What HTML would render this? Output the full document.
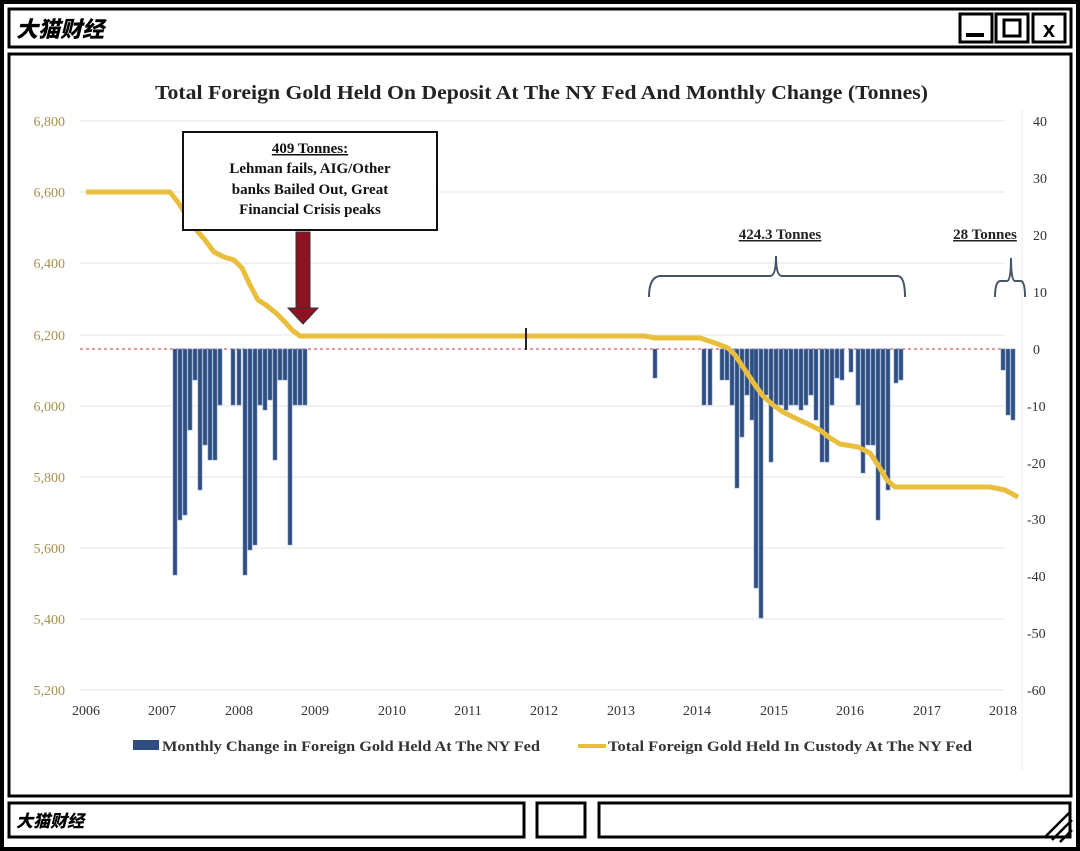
<!DOCTYPE html>
<html><head><meta charset="utf-8"><style>
html,body{margin:0;padding:0;background:#fff;}
svg{display:block;}
</style></head><body>
<svg width="1080" height="851" viewBox="0 0 1080 851" xmlns="http://www.w3.org/2000/svg" font-family="Liberation Serif, serif">
<rect x="0" y="0" width="1080" height="851" fill="#fff"/>
<rect x="2" y="2" width="1076" height="847" fill="none" stroke="#000" stroke-width="4"/>
<rect x="9" y="9" width="1062" height="38" fill="none" stroke="#000" stroke-width="3"/>
<text x="16" y="37" font-family="Noto Sans CJK SC, sans-serif" font-weight="900" font-style="italic" font-size="22" fill="#000">大猫财经</text>
<rect x="960" y="14" width="32" height="28" fill="none" stroke="#000" stroke-width="3"/>
<rect x="966" y="33" width="18" height="4" fill="#000"/>
<rect x="996" y="14" width="32" height="28" fill="none" stroke="#000" stroke-width="3"/>
<rect x="1004" y="20" width="16" height="16" fill="none" stroke="#000" stroke-width="3"/>
<rect x="1033" y="14" width="32" height="28" fill="none" stroke="#000" stroke-width="3"/>
<text x="1049" y="37" text-anchor="middle" font-family="Liberation Sans, sans-serif" font-weight="bold" font-size="22">x</text>
<rect x="9" y="54" width="1062" height="742" fill="none" stroke="#000" stroke-width="3"/>
<text x="155" y="99" textLength="773" lengthAdjust="spacingAndGlyphs" font-size="20" font-weight="bold" fill="#222">Total Foreign Gold Held On Deposit At The NY Fed And Monthly Change (Tonnes)</text>
<g stroke="#e4e4e4" stroke-width="1">
<line x1="80" y1="121" x2="1005" y2="121"/><line x1="80" y1="192" x2="1005" y2="192"/>
<line x1="80" y1="263" x2="1005" y2="263"/><line x1="80" y1="335" x2="1005" y2="335"/>
<line x1="80" y1="406" x2="1005" y2="406"/><line x1="80" y1="477" x2="1005" y2="477"/>
<line x1="80" y1="548" x2="1005" y2="548"/><line x1="80" y1="619" x2="1005" y2="619"/>
<line x1="80" y1="690" x2="1005" y2="690"/>
</g>
<line x1="80" y1="349" x2="1005" y2="349" stroke="#c33" stroke-width="1" stroke-dasharray="3,3"/>
<g font-size="14" fill="#a89050" text-anchor="end">
<text x="65" y="126">6,800</text><text x="65" y="197">6,600</text><text x="65" y="268">6,400</text>
<text x="65" y="340">6,200</text><text x="65" y="411">6,000</text><text x="65" y="482">5,800</text>
<text x="65" y="553">5,600</text><text x="65" y="624">5,400</text><text x="65" y="695">5,200</text>
</g>
<g font-size="14" fill="#333" text-anchor="start">
<text x="1033" y="126">40</text><text x="1033" y="183">30</text><text x="1033" y="240">20</text>
<text x="1033" y="297">10</text><text x="1033" y="354">0</text><text x="1027" y="411">-10</text>
<text x="1027" y="468">-20</text><text x="1027" y="524">-30</text><text x="1027" y="581">-40</text>
<text x="1027" y="638">-50</text><text x="1027" y="695">-60</text>
</g>
<line x1="1022" y1="110" x2="1022" y2="770" stroke="#eee"/>
<g font-size="14" fill="#333" text-anchor="middle">
<text x="86" y="715">2006</text><text x="162" y="715">2007</text><text x="239" y="715">2008</text>
<text x="315" y="715">2009</text><text x="392" y="715">2010</text><text x="468" y="715">2011</text>
<text x="544" y="715">2012</text><text x="621" y="715">2013</text><text x="697" y="715">2014</text>
<text x="774" y="715">2015</text><text x="850" y="715">2016</text><text x="927" y="715">2017</text>
<text x="1003" y="715">2018</text>
</g>
<g fill="#2f4d7e" stroke="#6f8fbf" stroke-width="0.6">
<rect x="173" y="349" width="4" height="226"/><rect x="178" y="349" width="4" height="171"/>
<rect x="183" y="349" width="4" height="166"/><rect x="188" y="349" width="4" height="81"/>
<rect x="193" y="349" width="4" height="31"/><rect x="198" y="349" width="4" height="141"/>
<rect x="203" y="349" width="4" height="96"/><rect x="208" y="349" width="4" height="111"/>
<rect x="213" y="349" width="4" height="111"/><rect x="218" y="349" width="4" height="56"/>
<rect x="231" y="349" width="4" height="56"/><rect x="237" y="349" width="4" height="56"/>
<rect x="243" y="349" width="4" height="226"/><rect x="248" y="349" width="4" height="201"/>
<rect x="253" y="349" width="4" height="196"/><rect x="258" y="349" width="4" height="56"/>
<rect x="263" y="349" width="4" height="61"/><rect x="268" y="349" width="4" height="51"/>
<rect x="273" y="349" width="4" height="111"/><rect x="278" y="349" width="4" height="31"/>
<rect x="283" y="349" width="4" height="31"/><rect x="288" y="349" width="4" height="196"/>
<rect x="293" y="349" width="4" height="56"/><rect x="298" y="349" width="4" height="56"/>
<rect x="303" y="349" width="4" height="56"/>
<rect x="653" y="349" width="4" height="29"/>
<rect x="702" y="349" width="4" height="56"/><rect x="708" y="349" width="4" height="56"/>
<rect x="720" y="349" width="4" height="31"/><rect x="725" y="349" width="4" height="31"/>
<rect x="730" y="349" width="4" height="56"/><rect x="735" y="349" width="4" height="139"/>
<rect x="740" y="349" width="4" height="88"/><rect x="745" y="349" width="4" height="46"/>
<rect x="750" y="349" width="4" height="71"/><rect x="754" y="349" width="4" height="239"/>
<rect x="759" y="349" width="4" height="269"/><rect x="764" y="349" width="4" height="46"/>
<rect x="769" y="349" width="4" height="113"/><rect x="774" y="349" width="4" height="56"/>
<rect x="779" y="349" width="4" height="56"/><rect x="784" y="349" width="4" height="61"/>
<rect x="789" y="349" width="4" height="56"/><rect x="794" y="349" width="4" height="56"/>
<rect x="799" y="349" width="4" height="61"/><rect x="804" y="349" width="4" height="56"/>
<rect x="809" y="349" width="4" height="46"/><rect x="814" y="349" width="4" height="71"/>
<rect x="820" y="349" width="4" height="113"/><rect x="825" y="349" width="4" height="113"/>
<rect x="830" y="349" width="4" height="56"/><rect x="835" y="349" width="4" height="29"/>
<rect x="840" y="349" width="4" height="31"/><rect x="849" y="349" width="4" height="23"/>
<rect x="856" y="349" width="4" height="56"/><rect x="861" y="349" width="4" height="124"/>
<rect x="866" y="349" width="4" height="96"/><rect x="871" y="349" width="4" height="96"/>
<rect x="876" y="349" width="4" height="171"/><rect x="881" y="349" width="4" height="121"/>
<rect x="886" y="349" width="4" height="141"/><rect x="894" y="349" width="4" height="34"/>
<rect x="899" y="349" width="4" height="31"/>
<rect x="1001" y="349" width="4" height="21"/><rect x="1006" y="349" width="4" height="66"/>
<rect x="1011" y="349" width="4" height="71"/>
</g>
<polyline fill="none" stroke="#e8be3c" stroke-width="5" stroke-linejoin="round" points="86,192 170,192 180,205 192,225 205,240 214,252 224,257 234,260 242,268 250,285 258,300 266,305 276,313 285,322 292,330 300,336 400,336 520,336 645,336 655,338 700,338 715,343 728,348 735,355 745,370 755,385 763,396 773,405 783,412 795,418 808,424 820,430 830,438 840,444 858,447 870,453 878,465 887,480 895,487 990,487 1005,490 1018,497"/>
<line x1="526" y1="328" x2="526" y2="350" stroke="#222" stroke-width="2"/>
<rect x="183" y="132" width="254" height="98" fill="#fff" stroke="#111" stroke-width="2"/>
<g font-size="15" font-weight="bold" fill="#111" text-anchor="middle">
<text x="310" y="153" text-decoration="underline">409 Tonnes:</text>
<text x="310" y="173">Lehman fails, AIG/Other</text>
<text x="310" y="194">banks Bailed Out, Great</text>
<text x="310" y="214">Financial Crisis peaks</text>
</g>
<rect x="296" y="232" width="14" height="78" fill="#8e1220" stroke="#333" stroke-width="1"/>
<polygon points="288,308 318,308 303,324" fill="#8e1220" stroke="#333" stroke-width="1"/>
<path d="M649,297 Q649,277 660,276 L770,276 Q776,276 776,256 Q776,276 782,276 L898,276 Q905,277 905,297" fill="none" stroke="#445566" stroke-width="2"/>
<text x="780" y="239" text-anchor="middle" font-size="15" font-weight="bold" fill="#222" text-decoration="underline">424.3 Tonnes</text>
<path d="M995,297 Q995,282 1000,281 L1007,281 Q1011,281 1011,258 Q1011,281 1015,281 L1021,281 Q1025,282 1025,297" fill="none" stroke="#445566" stroke-width="2"/>
<text x="985" y="239" text-anchor="middle" font-size="15" font-weight="bold" fill="#222" text-decoration="underline">28 Tonnes</text>
<rect x="133" y="740" width="26" height="10" fill="#2f4d7e"/>
<text x="162" y="751" textLength="378" lengthAdjust="spacingAndGlyphs" font-size="15" font-weight="bold" fill="#333">Monthly Change in Foreign Gold Held At The NY Fed</text>
<line x1="578" y1="746" x2="606" y2="746" stroke="#e8be3c" stroke-width="4"/>
<text x="608" y="751" textLength="364" lengthAdjust="spacingAndGlyphs" font-size="15" font-weight="bold" fill="#333">Total Foreign Gold Held In Custody At The NY Fed</text>
<rect x="9" y="803" width="515" height="34" fill="none" stroke="#000" stroke-width="3"/>
<text x="16" y="827" font-family="Noto Sans CJK SC, sans-serif" font-weight="900" font-style="italic" font-size="17">大猫财经</text>
<rect x="537" y="803" width="48" height="34" fill="none" stroke="#000" stroke-width="3"/>
<rect x="599" y="803" width="471" height="34" fill="none" stroke="#000" stroke-width="3"/>
<g stroke="#000" stroke-width="2.5"><line x1="1045" y1="837" x2="1070" y2="812"/><line x1="1052" y1="840" x2="1072" y2="820"/><line x1="1060" y1="842" x2="1072" y2="830"/></g>
</svg>
</body></html>
